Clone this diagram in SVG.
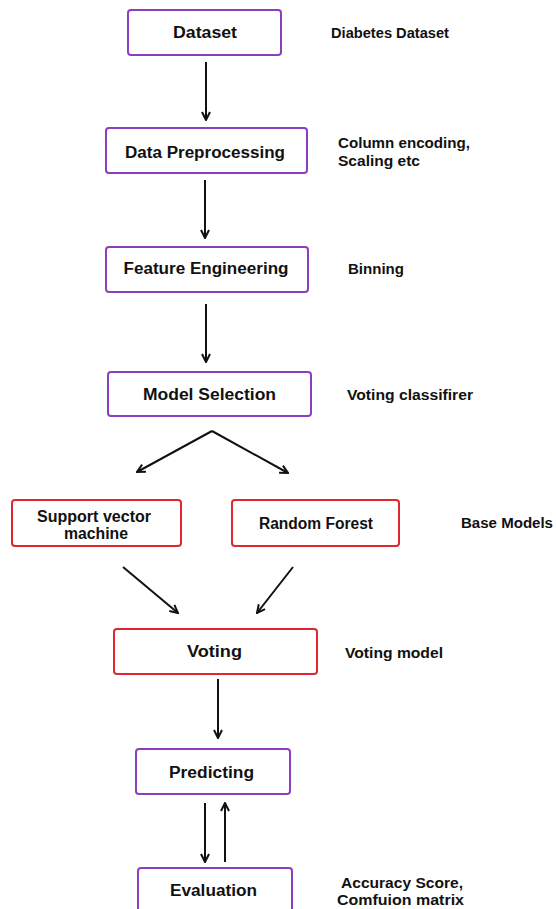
<svg xmlns="http://www.w3.org/2000/svg" width="556" height="909" viewBox="0 0 556 909">
<defs>
<marker id="ah" viewBox="0 0 10 10" refX="9" refY="5" markerWidth="5" markerHeight="5" orient="auto" markerUnits="strokeWidth">
<path d="M1,1 L9,5 L1,9" fill="none" stroke="#111" stroke-width="2"/>
</marker>
<style>
.box{fill:#fff;stroke-width:2}
.p{stroke:#8b3fc0}
.r{stroke:#e0272e}
.lbl{font-family:"Liberation Sans",Arial,sans-serif;font-weight:bold;font-size:16px;fill:#111;text-anchor:middle}
.side{font-family:"Liberation Sans",Arial,sans-serif;font-weight:bold;font-size:14.5px;fill:#111}
.c{stroke:#111;stroke-width:2;fill:none;marker-end:url(#ah)}
</style>
</defs>
<rect width="556" height="909" fill="#fff"/>
<g id="connectors">
<line class="c" x1="206" y1="62" x2="206" y2="120"/>
<line class="c" x1="205" y1="180" x2="205" y2="238"/>
<line class="c" x1="206" y1="304" x2="206" y2="362"/>
<line class="c" x1="212" y1="431" x2="137" y2="472"/>
<line class="c" x1="212" y1="431" x2="288" y2="473"/>
<line class="c" x1="123" y1="567" x2="178" y2="613"/>
<line class="c" x1="293" y1="567" x2="257" y2="613"/>
<line class="c" x1="218" y1="679" x2="218" y2="738"/>
<line class="c" x1="205" y1="803" x2="205" y2="862"/>
<line class="c" x1="225" y1="862" x2="225" y2="803"/>
</g>
<g id="dataset">
<rect class="box p" x="128" y="10" width="153" height="45" rx="3"/>
<text class="lbl" x="205" y="37.5" textLength="64" lengthAdjust="spacingAndGlyphs">Dataset</text>
<text class="side" x="331" y="38" textLength="118" lengthAdjust="spacingAndGlyphs">Diabetes Dataset</text>
</g>
<g id="preprocessing">
<rect class="box p" x="106" y="128" width="201" height="45" rx="3"/>
<text class="lbl" x="205" y="157.5" textLength="160" lengthAdjust="spacingAndGlyphs">Data Preprocessing</text>
<text class="side" x="338" y="148" textLength="132" lengthAdjust="spacingAndGlyphs">Column encoding,</text>
<text class="side" x="338" y="165.5" textLength="82" lengthAdjust="spacingAndGlyphs">Scaling etc</text>
</g>
<g id="feature-engineering">
<rect class="box p" x="106" y="247" width="202" height="45" rx="3"/>
<text class="lbl" x="206" y="273.5" textLength="165" lengthAdjust="spacingAndGlyphs">Feature Engineering</text>
<text class="side" x="348" y="273.5" textLength="56" lengthAdjust="spacingAndGlyphs">Binning</text>
</g>
<g id="model-selection">
<rect class="box p" x="108" y="372" width="203" height="44" rx="3"/>
<text class="lbl" x="209.5" y="399.5" textLength="133" lengthAdjust="spacingAndGlyphs">Model Selection</text>
<text class="side" x="347" y="400" textLength="126" lengthAdjust="spacingAndGlyphs">Voting classifirer</text>
</g>
<g id="svm">
<rect class="box r" x="12" y="500" width="169" height="46" rx="3"/>
<text class="lbl" x="94" y="522" textLength="114" lengthAdjust="spacingAndGlyphs">Support vector</text>
<text class="lbl" x="96" y="538.5" textLength="64" lengthAdjust="spacingAndGlyphs">machine</text>
</g>
<g id="random-forest">
<rect class="box r" x="232" y="500" width="167" height="46" rx="3"/>
<text class="lbl" x="316" y="528.5" textLength="114" lengthAdjust="spacingAndGlyphs">Random Forest</text>
<text class="side" x="461" y="528" textLength="92" lengthAdjust="spacingAndGlyphs">Base Models</text>
</g>
<g id="voting">
<rect class="box r" x="114" y="629" width="203" height="45" rx="3"/>
<text class="lbl" x="214.5" y="656.5" textLength="55" lengthAdjust="spacingAndGlyphs">Voting</text>
<text class="side" x="345" y="657.5" textLength="98" lengthAdjust="spacingAndGlyphs">Voting model</text>
</g>
<g id="predicting">
<rect class="box p" x="136" y="749" width="154" height="45" rx="3"/>
<text class="lbl" x="211.5" y="777.5" textLength="85" lengthAdjust="spacingAndGlyphs">Predicting</text>
</g>
<g id="evaluation">
<rect class="box p" x="138" y="868" width="154" height="50" rx="3"/>
<text class="lbl" x="213.5" y="895.5" textLength="87" lengthAdjust="spacingAndGlyphs">Evaluation</text>
<text class="side" x="341" y="888" textLength="122" lengthAdjust="spacingAndGlyphs">Accuracy Score,</text>
<text class="side" x="337" y="905" textLength="127" lengthAdjust="spacingAndGlyphs">Comfuion matrix</text>
</g>
</svg>
